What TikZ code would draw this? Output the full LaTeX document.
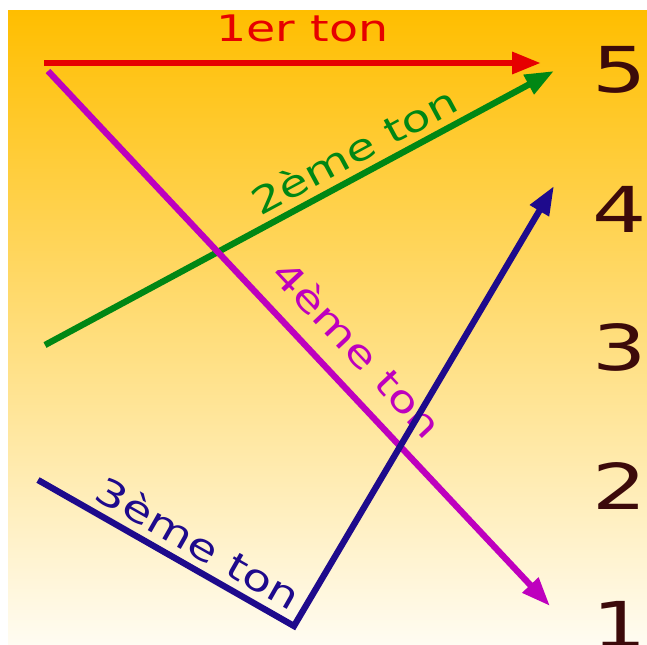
\documentclass[tikz,border=0pt]{standalone}
\usepackage{fontspec}
\setmainfont{DejaVu Sans}
\usetikzlibrary{arrows.meta}
\definecolor{tonred}{RGB}{230,0,0}
\definecolor{tongreen}{RGB}{0,135,20}
\definecolor{tonmag}{RGB}{190,0,190}
\definecolor{tonblue}{RGB}{30,10,140}
\definecolor{numbrown}{RGB}{60,10,10}
\definecolor{bgtop}{RGB}{255,190,0}
\definecolor{bgmid}{RGB}{255,222,125}
\definecolor{bgbot}{RGB}{255,252,242}

\begin{document}
\begin{tikzpicture}[x=0.025cm, y=-0.025cm,
  % one arrow per tone, coloured by #1
  tonline/.style={line width=4.5pt, draw=#1,
                  -{Triangle[length=0.72cm, width=0.52cm]}},
  tonlabel/.style={font=\fontsize{26}{26}\selectfont, text=#1, xscale=1.3,
                   sloped, inner sep=0pt, above=5pt},
  level/.style={font=\fontsize{45}{45}\selectfont, text=numbrown, xscale=1.35}
]

% Page and background
\fill[white] (0,0) rectangle (647,645);
\shade[top color=bgtop, middle color=bgmid, bottom color=bgbot] (8,10) rectangle (647,645);
\useasboundingbox (0,0) rectangle (647,645);

% Pitch levels
\node[level] (n5) at (620,70)  {5};
\node[level] (n4) at (620,209) {4};
\node[level] (n3) at (620,347) {3};
\node[level] (n2) at (620,486) {2};
\node[level] (n1) at (620,624) {1};

% End points of the tones
\coordinate (r1) at (44,63);
\coordinate (r2) at (541,63);
\coordinate (g1) at (45,345);
\coordinate (g2) at (554,71);
\coordinate (m1) at (48,71);
\coordinate (m2) at (550,606);
\coordinate (b1) at (38,480);
\coordinate (b2) at (294,626);
\coordinate (b3) at (554,186);

% Tones
\draw[tonline=tonred]   (r1) -- node[tonlabel=tonred, pos=0.52, above=8pt]{1er ton} (r2);
\draw[tonline=tongreen] (g1) -- node[tonlabel=tongreen, pos=0.63]{2ème ton} (g2);
\draw[tonline=tonmag]   (m1) -- node[tonlabel=tonmag, pos=0.565, above=8pt]{4ème ton} (m2);
\draw[tonline=tonblue]  (b1) -- node[tonlabel=tonblue, pos=0.58]{3ème ton} (b2) -- (b3);

\end{tikzpicture}
\end{document}
